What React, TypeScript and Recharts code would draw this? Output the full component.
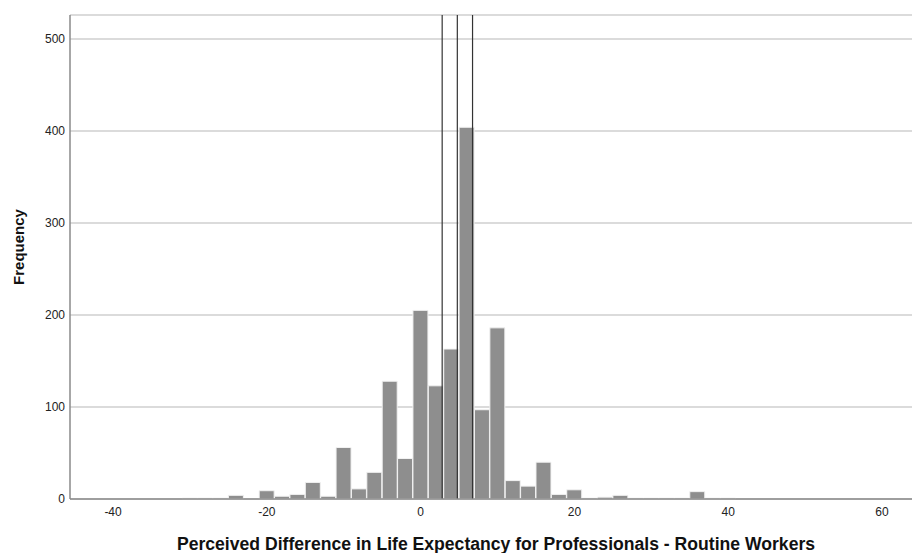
import {
  ComposedChart,
  Bar,
  XAxis,
  YAxis,
  CartesianGrid,
  ReferenceLine,
  Label,
} from 'recharts';

// Histogram bins (centre of each 2-unit bin)
const binCenters = [
  -30, -28, -26, -24, -22, -20, -18, -16, -14, -12, -10, -8, -6, -4, -2, 0, 2, 4,
  6, 8, 10, 12, 14, 16, 18, 20, 22, 24, 26, 28, 30, 32, 34, 36, 38, 40,
];
const frequencies = [
  1, 1, 1, 4, 0, 9, 3, 5, 18, 3, 56, 11, 29, 128, 44, 205, 123, 163,
  404, 97, 186, 20, 14, 40, 5, 10, 1, 2, 4, 1, 1, 1, 1, 8, 1, 1,
];

// mean and interval lines
const markerLines = [2.8, 4.77, 6.75];

const xTicks = [-40, -20, 0, 20, 40, 60];
const yTicks = [0, 100, 200, 300, 400, 500];

const data = binCenters.map((x, i) => ({ x, count: frequencies[i] }));

const FONT = '"Liberation Sans", Arial, sans-serif';

export default function App() {
  return (
    <div style={{ position: 'absolute', left: 0, top: 0, background: '#fff' }}>
      <ComposedChart
        width={912}
        height={553}
        data={data}
        margin={{ top: 15, right: 0, left: 0, bottom: 0 }}
        barCategoryGap={0}
        barGap={0}
      >
        <CartesianGrid vertical={false} stroke="#cfcfcf" strokeWidth={1.5} />
        <XAxis
          dataKey="x"
          type="number"
          domain={[-45.6, 63.9]}
          ticks={xTicks}
          allowDataOverflow
          height={54}
          tickLine={false}
          tickSize={8}
          tickMargin={0}
          stroke="#8a8a8a"
          strokeWidth={1.5}
          tick={{ fill: '#222', fontSize: 12, fontFamily: FONT }}
        >
          <Label
            content={() => (
              <text
                x={496}
                y={550}
                textAnchor="middle"
                fontFamily={FONT}
                fontSize={17.6}
                fontWeight="bold"
                fill="#111"
              >
                Perceived Difference in Life Expectancy for Professionals - Routine Workers
              </text>
            )}
          />
        </XAxis>
        <YAxis
          type="number"
          domain={[0, 526]}
          ticks={yTicks}
          width={70}
          tickLine={false}
          tickSize={5}
          tickMargin={0}
          stroke="#8a8a8a"
          strokeWidth={1.5}
          tick={{ fill: '#222', fontSize: 12, fontFamily: FONT }}
        >
          <Label
            content={() => (
              <text
                x={24}
                y={247}
                transform="rotate(-90 24 247)"
                textAnchor="middle"
                fontFamily={FONT}
                fontSize={15}
                fontWeight="bold"
                fill="#111"
              >
                Frequency
              </text>
            )}
          />
        </YAxis>
        <Bar
          dataKey="count"
          fill="#8e8e8e"
          stroke="#f2f2f2"
          strokeWidth={1}
          isAnimationActive={false}
        />
        {markerLines.map((v) => (
          <ReferenceLine key={v} x={v} stroke="#333" strokeWidth={1.2} />
        ))}
      </ComposedChart>
    </div>
  );
}
